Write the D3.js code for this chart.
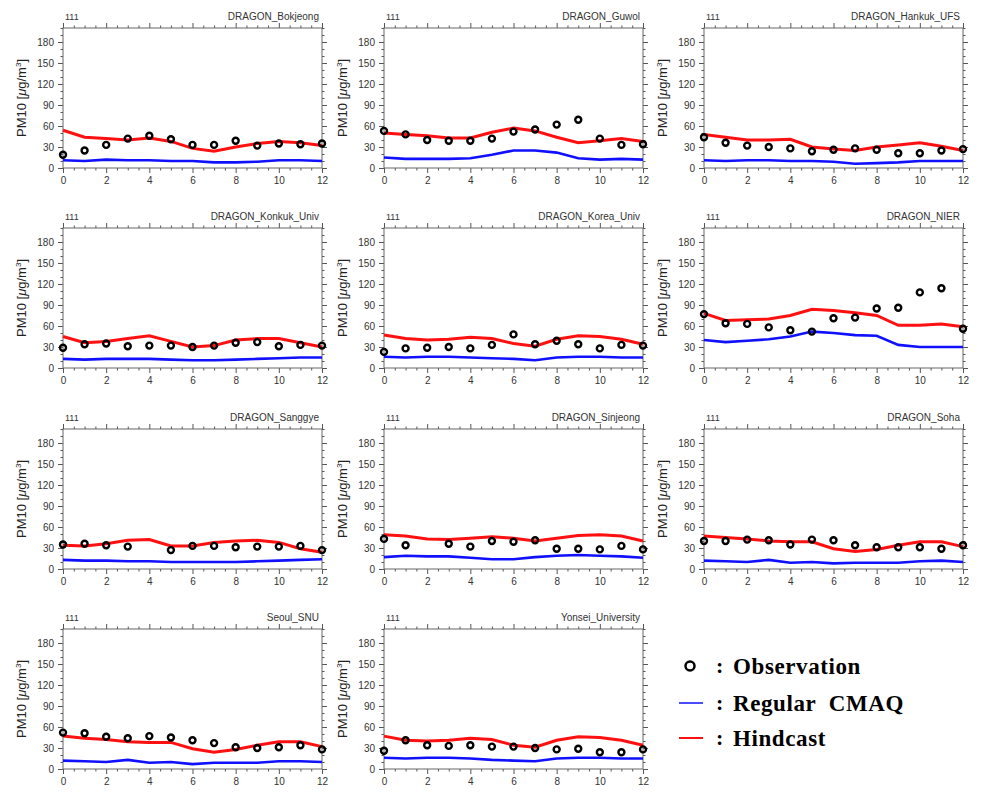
<!DOCTYPE html>
<html><head><meta charset="utf-8">
<script src="https://cdn.jsdelivr.net/npm/d3@7"></script>
<style>body{margin:0;background:#fff}svg{display:block}</style>
</head><body>
<svg id="c" width="1002" height="809"></svg>
<script>
const hours = [0,1,2,3,4,5,6,7,8,9,10,11,12];
const stations = ["DRAGON_Bokjeong","DRAGON_Guwol","DRAGON_Hankuk_UFS","DRAGON_Konkuk_Univ","DRAGON_Korea_Univ","DRAGON_NIER","DRAGON_Sanggye","DRAGON_Sinjeong","DRAGON_Soha","Seoul_SNU","Yonsei_University"];
const yTicks = [0,30,60,90,120,150,180];
const xTicks = [0,2,4,6,8,10,12];
const obs = [
 [19,25,33,42,46,41,33,33,39,32,35,34,35],
 [53,48,40,39,39,42,52,55,62,69,42,33,34],
 [44,36,32,30,28,24,26,28,26,21,21,25,27],
 [29,34,35,31,32,32,30,32,36,37,31,33,32],
 [23,28,29,30,28,33,48,34,39,34,28,33,32],
 [77,64,63,58,54,52,71,72,85,86,108,114,56],
 [35,36,34,32,null,27,33,33,31,32,32,33,27],
 [43,34,null,36,32,40,39,41,29,29,28,33,28],
 [40,40,42,41,35,42,41,34,31,31,31,29,34],
 [52,51,46,44,47,45,41,37,31,30,31,34,28],
 [26,41,34,33,34,32,32,30,28,29,24,24,28]
];
const hindcast = [
 [54,44,42,40,43,38,28,24,30,35,38,36,32],
 [50,48,46,43,43,51,57,53,44,36,39,42,38],
 [48,44,40,40,41,30,27,25,30,33,36,31,25],
 [45,36,38,42,46,38,30,32,40,42,42,36,30],
 [47,42,40,41,44,42,35,31,41,46,45,41,34],
 [78,68,69,70,75,84,82,79,75,61,61,63,59],
 [34,33,36,41,42,33,33,38,40,41,38,29,24],
 [49,47,43,42,44,46,44,40,44,48,49,47,40],
 [47,45,43,40,39,39,29,25,28,34,39,39,32],
 [47,44,42,39,38,38,29,24,28,34,39,39,32],
 [47,41,40,41,44,42,34,31,41,46,45,41,34]
];
const regular = [
 [11,10,12,11,11,10,10,8,8,9,11,11,10],
 [15,13,13,13,14,19,25,25,22,14,12,13,12],
 [11,10,11,11,10,10,9,6,7,8,10,10,10],
 [13,12,13,13,13,12,11,11,12,13,14,15,15],
 [16,15,16,16,15,14,13,11,15,16,16,15,15],
 [40,37,39,41,45,52,50,47,46,33,30,30,30],
 [13,12,12,11,11,10,10,10,10,11,12,13,14],
 [17,19,18,18,16,14,14,17,19,20,19,18,16],
 [12,11,10,13,9,10,8,9,9,9,11,12,10],
 [12,11,10,13,9,10,7,9,9,9,11,11,10],
 [16,15,16,16,15,13,12,11,15,16,16,15,15]
];
const legendLabels = ["Observation","Regular  CMAQ","Hindcast"];

const svg = d3.select("#c");
const colX = [63,384,704], rowY = [28,228,429,629];
const W = 259, H = 140;
const font = "Liberation Sans, Arial, sans-serif";

stations.forEach((name,i)=>{
  const col = i%3, row = Math.floor(i/3);
  const g = svg.append("g").attr("transform",`translate(${colX[col]},${rowY[row]})`);
  const x = d3.scaleLinear().domain([0,12]).range([0,W]);
  const y = d3.scaleLinear().domain([0,200]).range([H,0]);
  const minorX = d3.range(0,12.01,0.5).filter(v=>v%2!==0);
  const minorY = d3.range(0,201,10).filter(v=>v%30!==0);
  const style = a => { a.select(".domain").remove(); a.selectAll("line").attr("stroke","#555"); a.selectAll("text").attr("fill","#333").style("font-family",font).style("font-size","10px"); };
  g.append("g").attr("transform",`translate(0,${H})`).call(d3.axisBottom(x).tickValues(xTicks).tickSize(5).tickPadding(4)).call(style);
  g.append("g").attr("transform",`translate(0,${H})`).call(d3.axisBottom(x).tickValues(minorX).tickSize(2.5).tickFormat("")).call(style);
  g.append("g").call(d3.axisTop(x).tickValues(xTicks).tickSize(5).tickFormat("")).call(style);
  g.append("g").call(d3.axisTop(x).tickValues(minorX).tickSize(2.5).tickFormat("")).call(style);
  g.append("g").call(d3.axisLeft(y).tickValues(yTicks).tickSize(5).tickPadding(4)).call(style);
  g.append("g").call(d3.axisLeft(y).tickValues(minorY).tickSize(2.5).tickFormat("")).call(style);
  g.append("g").attr("transform",`translate(${W},0)`).call(d3.axisRight(y).tickValues(yTicks).tickSize(5).tickFormat("")).call(style);
  g.append("g").attr("transform",`translate(${W},0)`).call(d3.axisRight(y).tickValues(minorY).tickSize(2.5).tickFormat("")).call(style);
  g.append("rect").attr("width",W).attr("height",H).attr("fill","none").attr("stroke","#666").attr("stroke-width",1);

  const line = d3.line().x((d,j)=>x(hours[j])).y(d=>y(d));
  g.append("path").datum(regular[i]).attr("d",line).attr("fill","none").attr("stroke","#1010ff").attr("stroke-width",2.6);
  g.append("path").datum(hindcast[i]).attr("d",line).attr("fill","none").attr("stroke","#ff1010").attr("stroke-width",3);
  g.selectAll("circle.o").data(obs[i].map((v,j)=>({h:hours[j],v})).filter(d=>d.v!==null)).enter()
    .append("circle").attr("cx",d=>x(d.h)).attr("cy",d=>y(d.v)).attr("r",3)
    .attr("fill","none").attr("stroke","#000").attr("stroke-width",2.4);

  g.append("text").attr("x",2).attr("y",-8).text("111").attr("fill","#333").style("font-family",font).style("font-size","9px");
  g.append("text").attr("x",W-3).attr("y",-8).attr("text-anchor","end").text(name).attr("fill","#333").style("font-family",font).style("font-size","10px");
  const lab = g.append("text").attr("transform",`translate(-37,${H/2}) rotate(-90)`).attr("text-anchor","middle")
    .attr("fill","#222").style("font-family",font).style("font-size","13px");
  lab.append("tspan").text("PM10 [");
  lab.append("tspan").text("μ").style("font-style","italic");
  lab.append("tspan").text("g/m");
  lab.append("tspan").text("3").attr("dy",-5).style("font-size","8px");
  lab.append("tspan").text("]").attr("dy",5);
});

// legend
const lg = svg.append("g");
const ly = [666,703,738];
const lf = "Liberation Serif, DejaVu Serif, serif";
lg.append("circle").attr("cx",690).attr("cy",ly[0]).attr("r",4.5).attr("fill","none").attr("stroke","#000").attr("stroke-width",2.5);
lg.append("line").attr("x1",679).attr("x2",703).attr("y1",ly[1]).attr("y2",ly[1]).attr("stroke","#1010ff").attr("stroke-width",1.5);
lg.append("line").attr("x1",679).attr("x2",703).attr("y1",ly[2]).attr("y2",ly[2]).attr("stroke","#ff1010").attr("stroke-width",2);
legendLabels.forEach((t,k)=>{
  lg.append("text").attr("x",716).attr("y",ly[k]+7).text(":").style("font-family",lf).style("font-size","22px").style("font-weight","bold");
  lg.append("text").attr("x",733).attr("y",ly[k]+8).text(t).attr("xml:space","preserve").style("white-space","pre")
    .style("font-family",lf).style("font-size","23px").style("letter-spacing","0.6px").style("font-weight","bold");
});
</script>
</body></html>
